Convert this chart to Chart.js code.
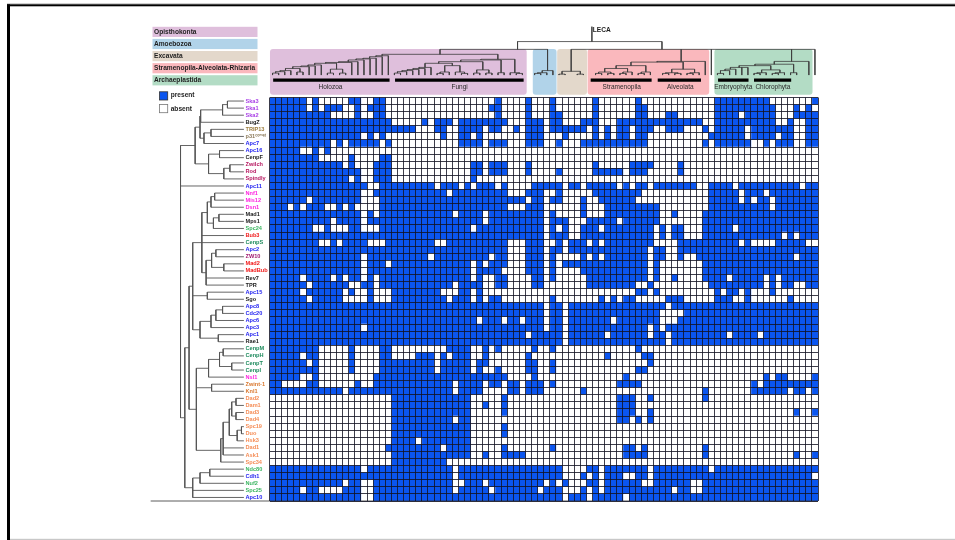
<!DOCTYPE html>
<html>
<head>
<meta charset="utf-8">
<style>html,body{margin:0;padding:0;background:#fff}canvas{display:block}</style>
<script src="https://cdn.jsdelivr.net/npm/chart.js@4/dist/chart.umd.min.js"></script>
</head>
<body>
<canvas id="c" width="955" height="540"></canvas>
<script>
const geneLabels = ["Ska3","Ska1","Ska2","BugZ","TRIP13","p31ᶜᵒᵐᵉᵗ","Apc7","Apc16","CenpF","Zwilch","Rod","Spindly","Apc11","Nnf1","Mis12","Dsn1","Mad1","Mps1","Spc24","Bub3","CenpS","Apc2","ZW10","Mad2","MadBub","Rev7","TPR","Apc15","Sgo","Apc8","Cdc20","Apc6","Apc3","Apc1","Rae1","CenpM","CenpH","CenpT","CenpI","Nsl1","Zwint-1","Knl1","Dad2","Dam1","Dad3","Dad4","Spc19","Duo","Hsk3","Dad1","Ask1","Spc34","Ndc80","Cdh1","Nuf2","Spc25","Apc10"];
const PUR="#a83ee6",BLK="#1a1a1a",BRN="#9c7c3c",BLU="#1c1cf0",CRI="#b5155e",MAG="#ff1fe0",LGR="#3bb560",RED="#f01818",DGR="#1c8a5c",ORG="#d9772e",LOR="#f58c55";
const geneColors = [PUR,PUR,PUR,BLK,BRN,"#8c7a5a",BLU,BLU,BLK,CRI,CRI,CRI,BLU,MAG,MAG,MAG,BLK,BLK,LGR,RED,DGR,BLU,"#a0186e",RED,RED,BLK,BLK,BLU,BLK,BLU,BLU,BLU,BLU,BLU,BLK,DGR,DGR,DGR,DGR,MAG,ORG,ORG,LOR,LOR,LOR,LOR,LOR,LOR,LOR,LOR,LOR,LOR,LGR,BLU,LGR,LGR,BLU];
const columnCount = 90;
// present columns per gene, in gene order
const presence = [
"0-5 7 13-14 17-18 37 42 46 53 60 73-81 89",
"0-5 7 9-11 14 16-18 36-37 42 46 53 60-61 73-82 86 88",
"0-9 14 17-18 37 42 46-47 53 60-61 65-66 73-76 78-82 86-89",
"0-19 25 27-29 31-38 42-44 46-47 51-53 57-70 73-82 85 88-89",
"0-23 27-28 31-34 36-37 40 42-44 46-51 53 55 57-58 60-62 65-67 71 73-77 79-85 88-89",
"0-14 16 18 28 31-32 34 42-44 48 53 55 57-58 60-61 72-77 79-82 84-85 88-89",
"0-9 11 13-17 19 31-34 36-38 42-44 47 51-61 71 73-78 81 83-85 88-89",
"0-4 7 9",
"0-7 13 18-19",
"0-11 13 17-19 33-34 36-38 42 53 59-62 67",
"0-14 17-19 33-34 36-38 42 47 53-57 59-61 67",
"0-12 14 17-19 33",
"0-15 18-26 28-30 32 34-36 38 43-47 49-50 52-56 58 60-61 63-69 72-75 77-86 88-89",
"0-14 17-28 30-38 42-44 47 53-60 72-76 78-80 82-89",
"0-5 7-14 18-41 43-44 46-47 51 54-59 72-76 78 80-81 83-89",
"0-2 4 6-8 11 13 18-38 42-44 51 55-63 72-81 83-89",
"0-14 16 18-29 31-34 36-44 46 51 55-63 66 71-89",
"0-9 11-14 16-34 36-44 46-48 52-56 58-63 71-89",
"0-6 9 13-14 18-32 34-44 46 48 51-53 55-62 64 66-67 71-75 77-89",
"0-44 46-48 51-62 64 66-67 71-83 85 87-89",
"0-7 10 12-15 19-26 29-38 42-44 47 49-51 53 55-62 67-76 78 83-87",
"0-38 42-44 46-47 49-61 63-64 67-89",
"0-14 16-25 27-35 37-38 42-44 46 51 53 55-61 63-64 67 70-85 87-89",
"0-14 16-18 20-32 34 36-38 42-44 46 48-61 63 71-89",
"0-14 16-32 34-37 42-44 46 51-61 63 71-89",
"0-4 6-9 11 13-14 16 18-32 34 37-38 43-44 46 52-61 63 66 71-74 76-80 82 84-89",
"0-5 7-12 15-16 18-29 31-34 37-38 43-44 52-59 62 72-80 82 84-85 88-89",
"0-4 6-11 13 16 20-27 31-32 34 60-61 63 73 75-76 78 82",
"0-5 7-11 16 20-28 30-32 34 36-37 46 54 56 58-59 65-67 73-75 78 85",
"0-44 46-47 49-64 66-89",
"0-44 46-47 49-63 68-89",
"0-33 35-37 39-40 42-44 46-47 49-55 57-63 67-89",
"0-14 16-44 46-47 49-61 63 65-89",
"0-41 43-47 49-54 56-61 63-64 66-74 76-79 81-89",
"0-47 49-64 66-89",
"0-7 13 18-19 29-32 35 37 43 46 60",
"0-4 6-7 13 18-19 24-26 28 30-32 35 42 55 61-62",
"0-5 7 13 18-26 28-32 34-35 42-43 46 62",
"0-7 13 18-26 28-32 34 37 42-43 46 60-61",
"0-4 7 17-38 43 58 81 83-84 89",
"0-1 6-7 14 17-29 31-34 36-37 39-40 42-44 46 57-60 79 81-89",
"0-11 13-29 31-34 39-40 42-44 51 71 79-84 86-87 89",
"20-32 38 57-59 62 71",
"20-32 35 38 57-59",
"20-32 38 57-59 62 86 89",
"20-29 31-32 57-58 60 62",
"20-32 38",
"20-32 38",
"20-23 25-32",
"19-27 29-32 38 46 58-59 61 71",
"20-32 35 38-41 58-61 71 86 89",
"20-28",
"0-14 16-29 31-47 52-53 55-61 63-71 73-89",
"0-29 31-47 51 53 55-57 60-61 63-88",
"0-11 13-14 17-29 32-34 36-44 46 48 52-53 55-60 63-68 71-89",
"0-4 6-7 12-14 17-29 31-35 37-43 45-47 51 53 55-65 67-68 71-89",
"0-14 17-47 49-51 53-57 59-89"
];
// gene dendrogram: [branch depth, ...children]; a number is a gene's row
const geneTree = [-14.6,
  [-12.2,
    [-11.4, [-11.3, [-7.7, [-6.9, 0, 1], 2], 3], [-10.75, [-9.6, 4, 5], 6]],
    [-10.0, [-8.2, 7, 8], [-7.5, [-6.5, 9, 10], 11]]],
  12,
  [-13.9,
    [-13.2,
      [-12.6,
        [-11.1,
          [-10.2, [-9.6, [-9.0, 13, 14], 15], [-9.2, [-8.3, 16, 17], 18]],
          19, 20,
          [-10.4, [-9.5, [-8.8, 21, 22], [-7.5, 23, 24]], 25, 26]],
        [-10.2, 27, 28],
        [-11.4, [-9.6, [-8.8, [-7.7, 29, 30], 31], 32], [-8.4, 33, 34]]],
      [-12.0,
        [-10.0, [-8.2, [-7.6, 35, 36], [-6.2, 37, 38]], 39],
        [-9.5, 40, 41],
        [-8.0, [-7.6, [-6.6, [-6.2, [-5.5, 42, 43], [-5.5, 44, 45]], [-5.3, [-4.6, 46, 47], 48]], 49, 50], 51]]],
    [-12.6, [-11.4, [-9.8, 52, 53], 54], 55, 56]]];
// species dendrogram: [height, ...children]; a number is a species' column
const holozoa = [-6.4,[-6.26,[-6.04,[-5.95,[-5.8,[-5.56,[-5.45,[-5.33,[-5.1,[-4.95,[-4.85,[-4.6,[-4.3,[-4.15,[-3.95,0,1],2],3],[-4.1,4,5]],6],7],8],[-4.5,[-3.95,9,10],[-3.95,11,12]]],13],14],15],16],17],18],19];
const fungi = [-5.9,[-5.8,[-5.56,[-5.33,[-4.75,[-4.6,[-4.45,[-4.3,[-4.15,[-3.95,20,21],22],23],24],25],26],[-5.0,[-4.1,[-3.9,27,28],29],[-4.1,30,[-3.9,31,32]]]],[-4.4,[-3.95,33,34],[-3.95,35,36]]],[-4.0,37,38]],[-4.0,39,[-3.9,40,41]]];
const amoebozoa = [-4.3,[-4.0,[-3.9,43,44],45],46];
const excavata = [-4.2,[-3.8,47,48],[-3.8,50,51]];
const stramenopila = [-5.0,[-4.6,[-4.1,[-3.9,53,54],[-3.9,55,56]],[-4.1,[-3.9,57,58],59]],[-4.1,[-3.9,60,61],62]];
const alveolata = [-4.5,[-4.0,[-3.9,64,65],[-3.9,66,67]],[-4.0,[-3.9,68,69],70]];
const embryophyta = [-4.75,[-4.5,[-4.3,[-3.9,73,74],75],76],77,78];
const chlorophyta = [-4.4,[-4.0,[-3.9,79,80],81],[-4.0,[-3.9,82,83],84]];
const archaeplastida = [-5.6,[-5.2,[-5.0,embryophyta,chlorophyta],[-4.0,85,86]],88];
const unikontBranch = [-7.3,[-6.6,holozoa,fungi],amoebozoa];
const bikontBranch = [-7.3,excavata,[-5.6,[-5.5,stramenopila,alveolata],71],72,archaeplastida,89];
unikontBranch.stem = 40.7; bikontBranch.stem = 64.4;
const speciesTree = [-8.4,unikontBranch,bikontBranch];
speciesTree.stem = 52.9;
const rootHeight = -10.5;
const supergroups = ["Opisthokonta","Amoebozoa","Excavata","Stramenopila-Alveolata-Rhizaria","Archaeplastida"];
const supergroupColors = ["#dfbfdc","#b1d3e9","#e3d8cb","#fab8bd","#b3dcc5"];
const supergroupSpans = [[0.08,42.2],[43.2,47.1],[47.2,52.1],[52.2,72.15],[73,89.1]];
const cladeNames = ["Holozoa","Fungi","Stramenopila","Alveolata","Embryophyta","Chlorophyta"];
const cladeSpans = [[0.6,19.7],[20.6,41.7],[52.7,62.7],[63.7,70.8],[73.6,78.6],[79.5,85.6]];
const cladeLabelCols = [10.0,31.2,57.8,67.4,76.1,82.6];

const LEAF_DEPTH = -4.2, LEAF_HEIGHT = -3.67, ROW_MIN = -0.5, ROW_MAX = 56.5;
const CELL_BLUE = "#0a55f0", CELL_LINE = "rgba(18,18,34,0.82)";
const matrix = presence.map(spec => {
  const row = new Array(columnCount).fill(false);
  spec.split(" ").forEach(part => {
    const [a, b] = part.split("-").map(Number);
    for (let i = a; i <= (b === undefined ? a : b); i++) row[i] = true;
  });
  return row;
});
function walk(node, point, leafPos, leafDepth, out) {
  if (typeof node === "number") return { p: leafPos(node), d: leafDepth };
  const [d, ...kids] = node;
  const done = kids.map(k => walk(k, point, leafPos, leafDepth, out));
  const ps = done.map(k => k.p), lo = Math.min(...ps), hi = Math.max(...ps);
  out.push(point(d, lo), point(d, hi), { x: null, y: null });
  done.forEach(k => out.push(point(d, k.p), point(k.d, k.p), { x: null, y: null }));
  return { p: node.stem !== undefined ? node.stem : (lo + hi) / 2, d };
}
const genePts = [];
walk(geneTree, (d, p) => ({ x: d, y: p }), i => i, LEAF_DEPTH, genePts);
const speciesPts = [];
const topRoot = walk(speciesTree, (d, p) => ({ x: p, y: d }), i => i + 0.5, LEAF_HEIGHT, speciesPts);
speciesPts.push({ x: topRoot.p, y: rootHeight }, { x: topRoot.p, y: topRoot.d });
const cladeBarPts = [];
cladeSpans.forEach(([a, b]) => cladeBarPts.push({ x: a, y: -2.95 }, { x: b, y: -2.95 }, { x: null, y: null }));
const baselinePts = [{ x: -19.5, y: ROW_MAX }, { x: columnCount, y: ROW_MAX }];

const lineSet = (label, data, color, width) => ({
  type: "scatter", label, data, xAxisID: "x", yAxisID: "rowPos", indexAxis: "x",
  showLine: true, spanGaps: false, pointRadius: 0, pointHoverRadius: 0, borderColor: color,
  backgroundColor: color, borderWidth: width, tension: 0, clip: false, order: 0, fill: false
});
const cellSets = [];
for (let c = 0; c < columnCount; c++) {
  cellSets.push({
    type: "bar", label: "col " + (c + 1), indexAxis: "y", xAxisID: "x", yAxisID: "y",
    data: geneLabels.map(() => [c, c + 1]),
    backgroundColor: ctx => matrix[ctx.dataIndex][c] ? CELL_BLUE : "#ffffff",
    borderWidth: 0, borderSkipped: false, inflateAmount: 0.2,
    grouped: false, barPercentage: 1, categoryPercentage: 1, order: 1
  });
}
function roundBox(ctx, x0, y0, x1, y1, r, color) {
  ctx.fillStyle = color;
  ctx.beginPath();
  ctx.roundRect(x0, y0, x1 - x0, y1 - y0, r);
  ctx.fill();
}
const decor = {
  id: "decor",
  beforeDatasetsDraw(chart) {
    const { ctx } = chart, X = chart.scales.x, R = chart.scales.rowPos;
    ctx.save();
    // page frame
    ctx.fillStyle = "#bdbdbd"; ctx.fillRect(7, 3.3, 948, 1);
    ctx.fillStyle = "#000"; ctx.fillRect(7, 4.3, 948, 2); ctx.fillRect(7, 4.3, 3, 536);
    ctx.fillStyle = "#c8c8c8"; ctx.fillRect(10, 538.8, 945, 1.2);
    // supergroup boxes over the species tree
    const bTop = R.getPixelForValue(-7.36), bBot = R.getPixelForValue(-0.9);
    supergroupSpans.forEach(([a, b], i) => roundBox(ctx, X.getPixelForValue(a), bTop, X.getPixelForValue(b), bBot, 3, supergroupColors[i]));
    // supergroup key
    ctx.textBaseline = "middle"; ctx.textAlign = "left";
    supergroups.forEach((name, i) => {
      const y = 26.8 + i * 12.1;
      ctx.fillStyle = supergroupColors[i]; ctx.fillRect(152.5, y, 105, 10.2);
      ctx.fillStyle = "#1f1f1f"; ctx.font = "bold 6.6px 'Liberation Sans'";
      ctx.fillText(name, 154, y + 5.2);
    });
    // present / absent key
    ctx.fillStyle = CELL_BLUE; ctx.fillRect(159.5, 91.8, 8.2, 8.2);
    ctx.strokeStyle = "#333"; ctx.lineWidth = 0.8; ctx.strokeRect(159.5, 91.8, 8.2, 8.2);
    ctx.fillStyle = "#fff"; ctx.fillRect(159.5, 104.5, 8.2, 8.2);
    ctx.strokeStyle = "#777"; ctx.strokeRect(159.5, 104.5, 8.2, 8.2);
    ctx.fillStyle = "#1f1f1f"; ctx.font = "bold 6.6px 'Liberation Sans'";
    ctx.fillText("present", 170.7, 95.6); ctx.fillText("absent", 170.7, 108.9);
    ctx.fillText("LECA", 592.7, 30);
    ctx.font = "6.5px 'Liberation Sans'"; ctx.textAlign = "center"; ctx.fillStyle = "#2a2a2a";
    cladeNames.forEach((name, i) => ctx.fillText(name, X.getPixelForValue(cladeLabelCols[i]), 86.8));
    ctx.restore();
  }
};
new Chart(document.getElementById("c"), {
  type: "bar",
  data: {
    labels: geneLabels,
    datasets: [
      ...cellSets,
      lineSet("gene tree", genePts, "#555555", 0.9),
      lineSet("species tree", speciesPts, "#3d3d3d", 0.8),
      lineSet("clades", cladeBarPts, "#000000", 3.4),
      lineSet("baseline", baselinePts, "#333333", 0.8)
    ]
  },
  options: {
    responsive: false, animation: false, devicePixelRatio: 1, indexAxis: "y",
    events: [],
    layout: { autoPadding: false, padding: { left: 245.5, right: 137, top: 97.5, bottom: 39 } },
    plugins: { legend: { display: false }, title: { display: false }, tooltip: { enabled: false } },
    scales: {
      x: {
        type: "linear", min: 0, max: columnCount, offset: false, position: "bottom",
        afterFit(scale) { scale.height = 0; },
        border: { display: false },
        grid: { color: CELL_LINE, lineWidth: 1, drawTicks: false, z: 1, offset: false },
        ticks: { display: false, stepSize: 1, autoSkip: false, maxTicksLimit: 100, padding: 0 }
      },
      rowPos: { type: "linear", axis: "y", min: ROW_MIN, max: ROW_MAX, reverse: true, offset: false, display: false },
      y: {
        type: "category", position: "left", labels: geneLabels, offset: true,
        grid: { color: CELL_LINE, lineWidth: 1, drawTicks: false, z: 1, offset: true },
        border: { display: false },
        afterFit(scale) { scale.width = 24; },
        ticks: {
          autoSkip: false, padding: 0, crossAlign: "far", maxRotation: 0, minRotation: 0,
          color: ctx => geneColors[ctx.index],
          font: { family: "'Liberation Sans'", size: 5.6, weight: "bold" }
        }
      }
    }
  },
  plugins: [decor]
});
</script>
</body>
</html>
